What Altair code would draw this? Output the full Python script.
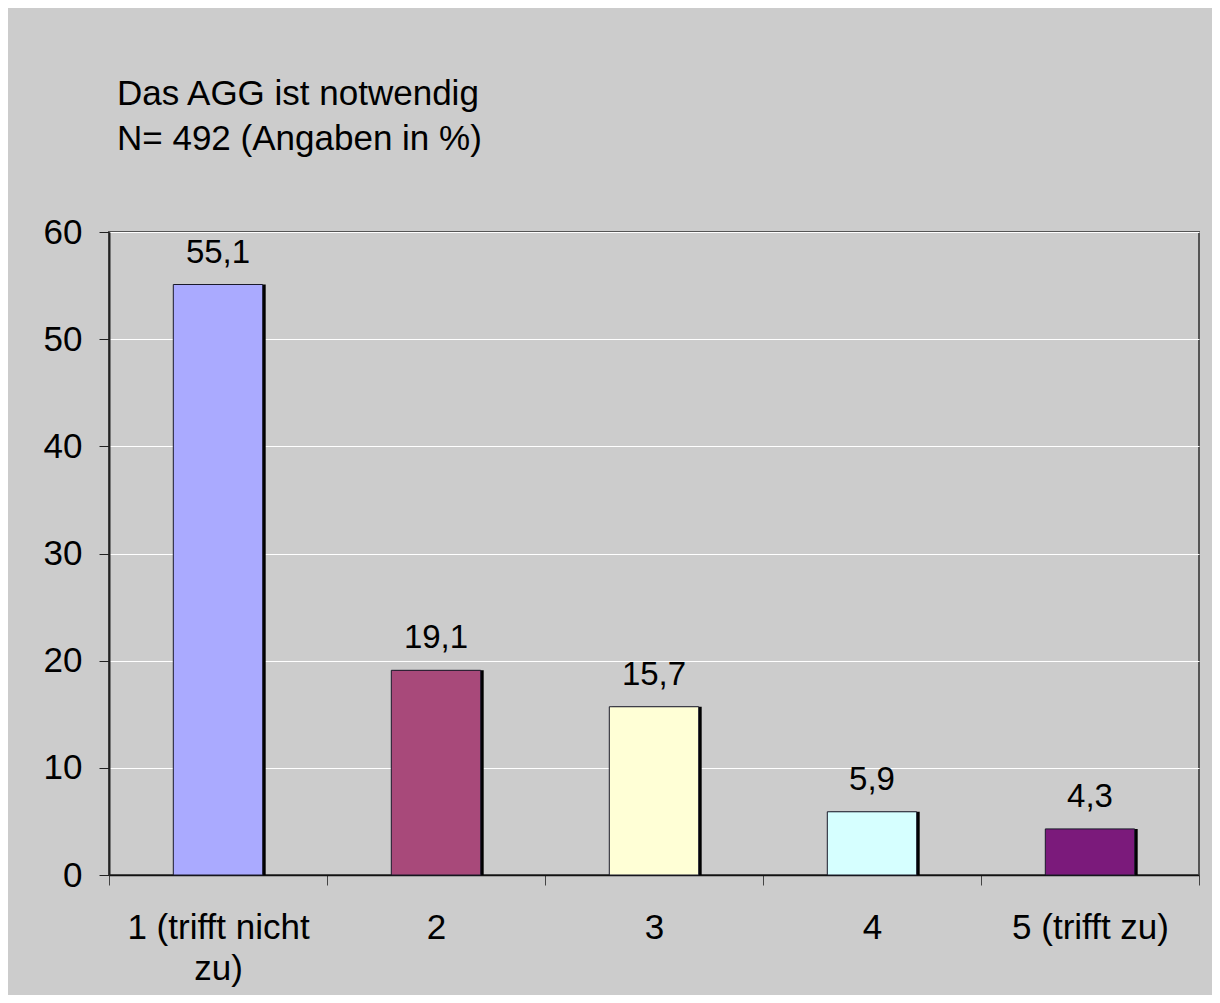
import altair as alt
import pandas as pd

categories = ["1 (trifft nicht zu)", "2", "3", "4", "5 (trifft zu)"]
values = [55.1, 19.1, 15.7, 5.9, 4.3]
bar_colors = ["#AAAAFF", "#A8497A", "#FFFFD6", "#D6FFFF", "#7B1A7B"]
title_lines = ["Das AGG ist notwendig", "N= 492 (Angaben in %)"]
y_ticks = [0, 10, 20, 30, 40, 50, 60]

FONT = "Liberation Sans"
FS = 35
FS_VAL = 33

df = pd.DataFrame({"cat": categories, "val": values})
title_df = pd.DataFrame({"t": [title_lines]})

x_enc = alt.X(
    "cat:N",
    sort=categories,
    scale=alt.Scale(paddingInner=0, paddingOuter=0),
    axis=alt.Axis(
        title=None,
        labelAngle=0,
        labelFont=FONT,
        labelFontSize=FS,
        labelColor="#000000",
        labelPadding=25,
        labelLineHeight=41,
        labelBaseline="top",
        labelLimit=600,
        labelExpr="datum.label == '1 (trifft nicht zu)' ? ['1 (trifft nicht', 'zu)'] : datum.label",
        tickBand="extent",
        tickSize=10,
        tickColor="#444444",
        domainColor="#111111",
        domainWidth=1.5,
        grid=False,
    ),
)
y_enc = alt.Y(
    "val:Q",
    scale=alt.Scale(domain=[0, 60], nice=False),
    axis=alt.Axis(
        title=None,
        values=y_ticks,
        labelFont=FONT,
        labelFontSize=FS,
        labelColor="#000000",
        labelPadding=17,
        tickSize=10,
        tickColor="#222222",
        domainColor="#222222",
        domainWidth=2,
        gridColor="#FFFFFF",
        gridWidth=1,
    ),
)

base = alt.Chart(df)
bw = alt.RelativeBandSize(0.41)

shadow = base.mark_bar(color="#000000", xOffset=3, width=bw).encode(x=x_enc, y=y_enc)

bars = base.mark_bar(stroke="#1a1a2a", strokeWidth=1, width=bw).encode(
    x=x_enc,
    y=y_enc,
    color=alt.Color("cat:N", sort=categories,
                    scale=alt.Scale(domain=categories, range=bar_colors),
                    legend=None),
)

labels = base.transform_calculate(
    lab="replace(format(datum.val, '.1f'), '.', ',')"
).mark_text(
    font=FONT, fontSize=FS_VAL, color="#000000", baseline="alphabetic", dy=-22
).encode(x=x_enc, y=y_enc, text="lab:N")

title = alt.Chart(title_df).mark_text(
    font=FONT, fontSize=FS, color="#000000", align="left",
    baseline="alphabetic", lineHeight=45
).encode(x=alt.value(8), y=alt.value(-127), text="t")

chart = alt.layer(shadow, bars, labels, title).properties(
    width=1090,
    height=643,
    background="#CCCCCC",
    autosize=alt.AutoSizeParams(type="none"),
    padding={"left": 101, "top": 224, "right": 13, "bottom": 120},
).configure_view(
    stroke="#555555", strokeWidth=2, fill="#CCCCCC"
)

chart.save("out.html", embed_options={"renderer": "svg", "actions": False})
